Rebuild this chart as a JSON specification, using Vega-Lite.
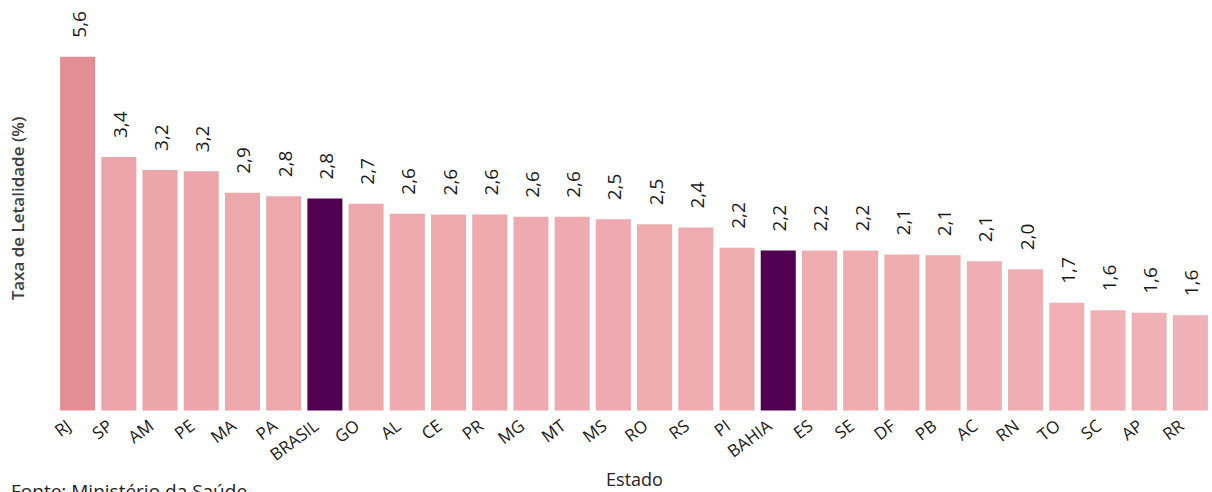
{
  "$schema": "https://vega.github.io/schema/vega-lite/v6.json",
  "width": 1154,
  "height": 405,
  "autosize": "none",
  "padding": {"left": 57, "top": 5.5, "right": 1, "bottom": 81.5},
  "background": "white",
  "title": {
    "text": "Fonte: Ministério da Saúde",
    "orient": "bottom",
    "anchor": "start",
    "dx": 2,
    "dy": -7,
    "offset": 0,
    "fontSize": 19,
    "font": "Open Sans",
    "fontWeight": "normal",
    "color": "#222222",
    "baseline": "top"
  },
  "data": {
    "values": [
      {"estado": "RJ", "valor": 5.61},
      {"estado": "SP", "valor": 3.44},
      {"estado": "AM", "valor": 3.23},
      {"estado": "PE", "valor": 3.21},
      {"estado": "MA", "valor": 2.89},
      {"estado": "PA", "valor": 2.84},
      {"estado": "BRASIL", "valor": 2.81},
      {"estado": "GO", "valor": 2.74},
      {"estado": "AL", "valor": 2.61},
      {"estado": "CE", "valor": 2.6},
      {"estado": "PR", "valor": 2.6},
      {"estado": "MG", "valor": 2.57},
      {"estado": "MT", "valor": 2.57},
      {"estado": "MS", "valor": 2.54},
      {"estado": "RO", "valor": 2.48},
      {"estado": "RS", "valor": 2.44},
      {"estado": "PI", "valor": 2.21},
      {"estado": "BAHIA", "valor": 2.18},
      {"estado": "ES", "valor": 2.18},
      {"estado": "SE", "valor": 2.18},
      {"estado": "DF", "valor": 2.14},
      {"estado": "PB", "valor": 2.13},
      {"estado": "AC", "valor": 2.07},
      {"estado": "RN", "valor": 1.99},
      {"estado": "TO", "valor": 1.69},
      {"estado": "SC", "valor": 1.63},
      {"estado": "AP", "valor": 1.61},
      {"estado": "RR", "valor": 1.59}
    ]
  },
  "encoding": {
    "x": {
      "field": "estado",
      "type": "nominal",
      "sort": null,
      "scale": {"paddingInner": 0.15, "paddingOuter": 0.075},
      "axis": {
        "title": "Estado",
        "titleFont": "Open Sans",
        "titleFontSize": 18,
        "titleFontWeight": "normal",
        "titleColor": "#252423",
        "titleBaseline": "top",
        "titleY": 61,
        "labelAngle": -37,
        "labelAlign": "right",
        "labelBaseline": "top",
        "labelFont": "Open Sans",
        "labelFontSize": 17,
        "labelColor": "#1a1a1a",
        "labelPadding": 7,
        "labelOffset": -13,
        "ticks": false,
        "domain": false,
        "grid": false
      }
    },
    "y": {
      "field": "valor",
      "type": "quantitative",
      "scale": {"type": "log", "domain": [1, 7.2], "nice": false},
      "axis": {
        "title": "Taxa de Letalidade (%)",
        "titleFont": "Open Sans",
        "titleFontSize": 17,
        "titleFontWeight": 600,
        "titleColor": "#404040",
        "titlePadding": 30,
        "labels": false,
        "ticks": false,
        "domain": false,
        "grid": false
      }
    }
  },
  "layer": [
    {
      "mark": {"type": "bar"},
      "encoding": {
        "y2": {"datum": 1},
        "color": {
          "condition": {"test": "datum.estado === 'BRASIL' || datum.estado === 'BAHIA'", "value": "#500050"},
          "field": "valor",
          "type": "quantitative",
          "scale": {"type": "linear", "domain": [1.6, 3.4, 5.6], "range": ["#f0b1b6", "#eca4aa", "#e58d95"]},
          "legend": null
        }
      }
    },
    {
      "mark": {"type": "text", "angle": -90, "align": "left", "baseline": "middle", "dx": 19, "dy": 2, "font": "Open Sans", "fontSize": 19, "color": "#1a1a1a"},
      "encoding": {
        "text": {"field": "valor", "type": "quantitative", "format": ".1f"}
      }
    }
  ],
  "config": {
    "view": {"stroke": null},
    "locale": {"number": {"decimal": ",", "thousands": ".", "grouping": [3], "currency": ["R$", ""]}}
  }
}
